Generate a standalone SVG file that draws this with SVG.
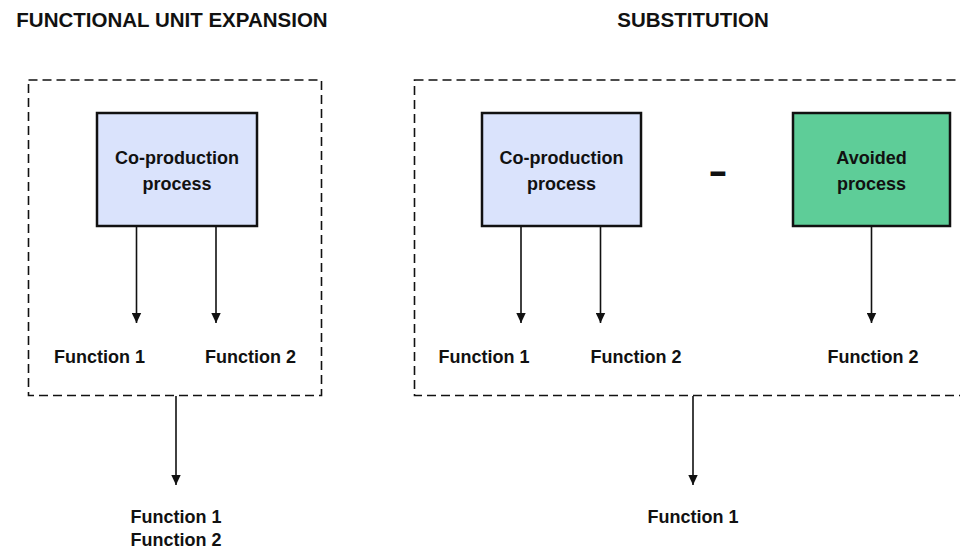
<svg xmlns="http://www.w3.org/2000/svg" width="960" height="552" viewBox="0 0 960 552">
  <defs>
    <style>
      text { font-family: "Liberation Sans", Arial, sans-serif; font-weight: bold; fill: #111; }
      .title { font-size: 20.5px; }
      .lbl { font-size: 18px; text-anchor: middle; }
      .frame { fill: none; stroke: #111; stroke-width: 1.6; stroke-dasharray: 9 5; }
      .proc { stroke: #111; stroke-width: 2.5; }
      .blue { fill: #DAE3FC; }
      .green { fill: #5ECD98; }
      .conn line { stroke: #111; stroke-width: 1.6; marker-end: url(#arr); }
    </style>
    <marker id="arr" markerWidth="10" markerHeight="10" viewBox="0 0 10 10" refX="10" refY="5" markerUnits="userSpaceOnUse" orient="auto">
      <path d="M0,0.3 L10,5 L0,9.7 Z" fill="#111"/>
    </marker>
  </defs>

  <rect width="960" height="552" fill="#ffffff"/>

  <text class="title" x="172" y="27" text-anchor="middle">FUNCTIONAL UNIT EXPANSION</text>
  <text class="title" x="693" y="27" text-anchor="middle">SUBSTITUTION</text>

  <g id="frame-left"><rect class="frame" x="28.5" y="80" width="293" height="315.5"/></g>
  <g id="frame-right"><rect class="frame" x="414.5" y="80" width="560" height="315.5"/></g>

  <g id="coprod-left">
    <rect class="proc blue" x="97" y="113" width="160" height="113"/>
    <text class="lbl" x="177" y="164">Co-production</text>
    <text class="lbl" x="177" y="190">process</text>
  </g>
  <g id="coprod-right">
    <rect class="proc blue" x="482" y="113" width="159" height="113"/>
    <text class="lbl" x="561.5" y="164">Co-production</text>
    <text class="lbl" x="561.5" y="190">process</text>
  </g>
  <g id="avoided">
    <rect class="proc green" x="793" y="113" width="157" height="113"/>
    <text class="lbl" x="871.5" y="164">Avoided</text>
    <text class="lbl" x="871.5" y="190">process</text>
  </g>
  <g id="minus">
    <text x="708.3" y="183" font-size="36" textLength="19.4" lengthAdjust="spacingAndGlyphs">-</text>
  </g>

  <g id="fn-left-1"><text class="lbl" x="99.5" y="363">Function 1</text></g>
  <g id="fn-left-2"><text class="lbl" x="250.5" y="363">Function 2</text></g>
  <g id="fn-right-1"><text class="lbl" x="484" y="363">Function 1</text></g>
  <g id="fn-right-2"><text class="lbl" x="636" y="363">Function 2</text></g>
  <g id="fn-avoided-2"><text class="lbl" x="873" y="363">Function 2</text></g>

  <g id="result-left">
    <text class="lbl" x="176" y="523">Function 1</text>
    <text class="lbl" x="176" y="546">Function 2</text>
  </g>
  <g id="result-right"><text class="lbl" x="693" y="523">Function 1</text></g>

  <g id="connectors" class="conn">
    <line x1="136.5" y1="227" x2="136.5" y2="323"/>
    <line x1="216" y1="227" x2="216" y2="323"/>
    <line x1="521" y1="227" x2="521" y2="323"/>
    <line x1="600.5" y1="227" x2="600.5" y2="323"/>
    <line x1="871.5" y1="227" x2="871.5" y2="323"/>
    <line x1="176" y1="396" x2="176" y2="485"/>
    <line x1="693" y1="396" x2="693" y2="485"/>
  </g>
</svg>
